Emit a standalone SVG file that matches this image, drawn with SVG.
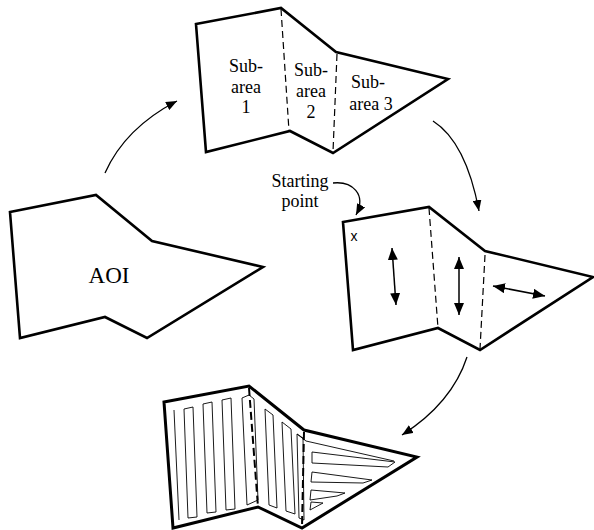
<svg xmlns="http://www.w3.org/2000/svg" width="594" height="530" viewBox="0 0 594 530">
<style>
.area{fill:#fff;stroke:#000;stroke-width:2.6;stroke-linejoin:miter}
.dash{fill:none;stroke:#000;stroke-width:1.2;stroke-dasharray:7 4}
.dashb{fill:none;stroke:#000;stroke-width:2;stroke-dasharray:8 4}
.lane{fill:none;stroke:#000;stroke-width:0.9;stroke-linejoin:miter}
.conn{fill:none;stroke:#000;stroke-width:1.3}
.dbl{fill:none;stroke:#000;stroke-width:1.5}
text{font-family:"Liberation Serif","Times New Roman",serif;font-size:18px;fill:#000;text-anchor:middle}
</style>
<defs>
<marker id="ah" viewBox="0 0 11 9" refX="11" refY="4.5" markerWidth="11" markerHeight="9" markerUnits="userSpaceOnUse" orient="auto-start-reverse">
<path d="M0,0 L11,4.5 L0,9 z" fill="#000"/>
</marker>
<marker id="ah2" viewBox="0 0 12 10" refX="12" refY="5" markerWidth="12" markerHeight="10" markerUnits="userSpaceOnUse" orient="auto-start-reverse">
<path d="M0,0 L12,5 L0,10 z" fill="#000"/>
</marker>
</defs>

<g id="aoi">
<polygon class="area" points="10,212 96,195 152,241 263,267 147,338 105,317 20,338"/>
<text x="109" y="283" style="font-size:23px">AOI</text>
</g>

<g id="subareas">
<polygon class="area" points="196,24 281,8 336,52 448,79 333,153 290,131 206,152"/>
<line class="dash" x1="281" y1="9" x2="289" y2="131"/>
<line class="dash" x1="337" y1="54" x2="333" y2="152"/>
<text x="246" y="72">Sub-</text>
<text x="246" y="93">area</text>
<text x="246" y="113">1</text>
<text x="311" y="76">Sub-</text>
<text x="311" y="97">area</text>
<text x="311" y="118">2</text>
<text x="368" y="88">Sub-</text>
<text x="371" y="110">area 3</text>
</g>

<g id="directions">
<polygon class="area" points="343,222 429,207 485,251 593,277 480,350 438,328 353,350"/>
<line class="dash" x1="429" y1="208" x2="438" y2="328"/>
<line class="dash" x1="485" y1="255" x2="480" y2="349"/>
<text x="354" y="241" style="font-family:'Liberation Sans',Arial,sans-serif;font-size:14px">x</text>
<line class="dbl" x1="392" y1="248" x2="396" y2="305" marker-start="url(#ah2)" marker-end="url(#ah2)"/>
<line class="dbl" x1="459" y1="257" x2="459" y2="315" marker-start="url(#ah2)" marker-end="url(#ah2)"/>
<line class="dbl" x1="493" y1="286" x2="545" y2="296" marker-start="url(#ah2)" marker-end="url(#ah2)"/>
</g>

<g id="starting-point">
<text x="300" y="187">Starting</text>
<text x="300" y="207">point</text>
</g>

<g id="coverage">
<polygon class="area" points="164,402 249,386 304,430 417,457 302,528 258,507 173,528" style="stroke-width:3"/>
<line class="lane" x1="174" y1="410" x2="179" y2="520"/>
<polygon class="lane" points="184,409 193,407 197,517 188,518"/>
<polygon class="lane" points="203,404 212,402 216,512 207,513"/>
<polygon class="lane" points="222,400 231,398 235,509 226,510"/>
<polygon class="lane" points="242,398 249,395 254,399 258,500 247,505"/>
<polygon class="lane" points="265,409 273,415 277,508 269,505"/>
<polygon class="lane" points="282,422 291,429 295,514 286,511"/>
<polygon class="lane" points="297,434 303,438 304,520 299,518"/>
<polyline class="lane" points="297,434 306,441 394,461"/>
<polygon class="lane" points="312,452 395,462 388,467 312,463"/>
<polygon class="lane" points="312,472 372,480 363,483 311,482"/>
<polygon class="lane" points="311,490 345,493 337,496 310,500"/>
<polygon class="lane" points="311,502 323,503 310,510"/>
<line class="dashb" x1="249" y1="388" x2="258" y2="507"/>
<line class="dashb" x1="304" y1="432" x2="302" y2="527"/>
</g>

<g id="connectors">
<path class="conn" d="M105,173 Q125,128 177,101" marker-end="url(#ah)"/>
<path class="conn" d="M433,121 Q466,142 479,211" marker-end="url(#ah)"/>
<path class="conn" d="M467,357 Q452,403 402,435" marker-end="url(#ah)"/>
<path class="conn" d="M333,183 C352,181 367,194 356,215" marker-end="url(#ah)"/>
</g>
</svg>
